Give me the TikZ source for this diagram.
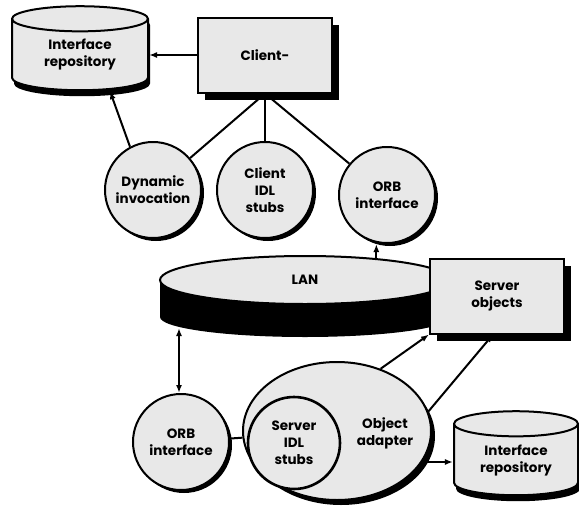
\documentclass[tikz,border=0pt]{standalone}
\usepackage{fontspec}
\setmainfont{Poppins}
\usetikzlibrary{arrows.meta, shapes.geometric, shadows}

\begin{document}
\begin{tikzpicture}[
    x=1pt, y=-1pt,
    >={Latex[length=8pt, width=6pt]},
    every node/.style={font=\fontsize{13.5}{17}\selectfont\bfseries, align=center},
    base/.style={draw, line width=2pt, fill=gray!18},
    unit/.style={base, circle, minimum size=96pt, inner sep=0pt,
      drop shadow={shadow xshift=3pt, shadow yshift=-3pt, fill=black, opacity=1}},
    box/.style={base, rectangle, minimum width=134pt, minimum height=75pt,
      drop shadow={shadow xshift=7pt, shadow yshift=-7pt, fill=black, opacity=1}},
    repo/.style={base, cylinder, shape border rotate=90, aspect=0.35,
      minimum width=136pt, minimum height=84pt, inner sep=0pt,
      drop shadow={shadow xshift=2pt, shadow yshift=-6pt, fill=black, opacity=1}},
    link/.style={line width=2pt}
  ]
  \useasboundingbox (0,0) rectangle (579,509);

  % client side
  \node [repo] (repo1) at (80,55) {Interface\\repository};
  \node [box] (client) at (265,55) {Client-};
  \node [unit] (dyn) at (153,190) {Dynamic\\invocation};
  \node [unit] (cstubs) at (265,190) {Client\\IDL\\stubs};
  \node [unit] (orb1) at (387,195) {ORB\\interface};

  % network disk
  \fill (160,280) rectangle (450,317);
  \fill (305,317) ellipse [x radius=145, y radius=20];
  \node [base, ellipse, minimum width=290pt, minimum height=48pt] (lan) at (305,280) {LAN};
  \coordinate (lanbase) at (179,328);

  % server side
  \node [box] (server) at (497,296) {Server\\objects};
  \node [unit] (orb2) at (181,442) {ORB\\interface};
  \node [base, ellipse, minimum width=188pt, minimum height=138pt,
    drop shadow={shadow xshift=4pt, shadow yshift=-5pt, fill=black, opacity=1}] (adapter) at (337,431) {};
  \node [base, circle, line width=2.6pt, minimum size=92pt, inner sep=0pt] (sstubs) at (294,443) {Server\\IDL\\stubs};
  \node (adaptxt) at (385,433) {Object\\adapter};
  \node [repo, minimum width=124pt] (repo2) at (516,460) {Interface\\repository};

  % connectors
  \draw [link, ->] (client.west) -- (repo1.0);
  \draw [link, ->] (dyn.118) -- ([xshift=30pt]repo1.-90);
  \draw [link] (client.south) -- (dyn);
  \draw [link] (client.south) -- (cstubs);
  \draw [link] (client.south) -- (orb1);
  \draw [link, ->] (lan.17) -- (lan.17 |- orb1.south);
  \draw [link, <->] (lanbase) -- (lanbase |- orb2.north);
  \draw [link] (orb2) -- (adapter);
  \draw [link, ->] (adapter.55) -- (server.south west);
  \draw [link, ->] (adapter.12) -- ([xshift=-4pt]server.south);
  \draw [link, ->] (adapter.-20) -- (adapter.-20 -| repo2.180);
\end{tikzpicture}
\end{document}
